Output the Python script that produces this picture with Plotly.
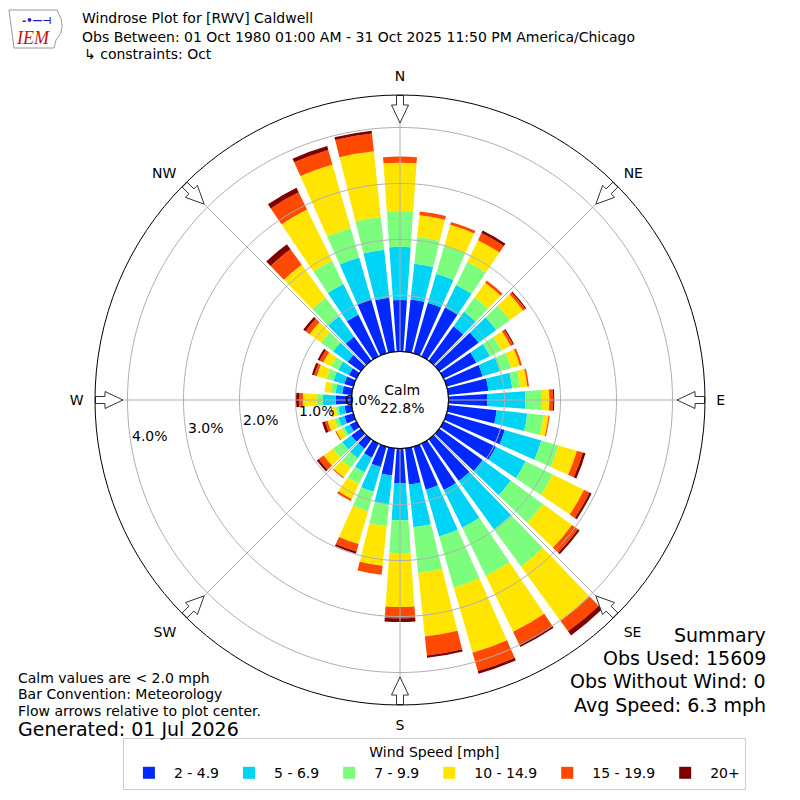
import math
import plotly.graph_objects as go

# wind direction bins (degrees, meteorological convention)
directions = list(range(0, 360, 10))
speed_bins = ["2 - 4.9", "5 - 6.9", "7 - 9.9", "10 - 14.9", "15 - 19.9", "20+"]
bin_colors = ["#0028ff", "#00d4f6", "#7dfd7d", "#ffe500", "#ff4800", "#800000"]

# frequency (%) per direction for each speed bin
pct_2_5 = [0.92, 0.94, 0.94, 0.97, 0.76, 0.87, 0.65, 0.67, 0.72, 0.69, 0.87, 1.08,
           1.04, 0.96, 0.92, 0.92, 0.80, 0.65, 0.62, 0.49, 0.38, 0.28, 0.21, 0.21,
           0.13, 0.17, 0.13, 0.28, 0.17, 0.17, 0.15, 0.29, 0.53, 0.83, 1.01, 0.97]
pct_5_7 = [0.95, 0.64, 0.54, 0.45, 0.32, 0.39, 0.27, 0.32, 0.43, 0.68, 0.55, 0.68,
           0.59, 0.62, 1.07, 0.75, 0.87, 0.77, 0.66, 0.52, 0.46, 0.29, 0.21, 0.20,
           0.11, 0.11, 0.11, 0.23, 0.12, 0.20, 0.21, 0.32, 0.45, 0.61, 0.77, 0.86]
pct_7_10 = [0.64, 0.48, 0.52, 0.46, 0.32, 0.30, 0.23, 0.21, 0.14, 0.30, 0.29, 0.32,
            0.54, 0.71, 0.82, 0.96, 0.95, 0.82, 0.59, 0.39, 0.36, 0.23, 0.21, 0.20,
            0.05, 0.07, 0.05, 0.11, 0.09, 0.13, 0.14, 0.27, 0.41, 0.46, 0.55, 0.59]
pct_10_15 = [0.86, 0.39, 0.39, 0.43, 0.32, 0.29, 0.18, 0.16, 0.13, 0.13, 0.09, 0.34,
             0.62, 0.64, 1.20, 1.11, 1.21, 1.14, 0.96, 0.71, 0.61, 0.30, 0.21, 0.21,
             0.11, 0.13, 0.07, 0.25, 0.11, 0.18, 0.16, 0.25, 0.73, 1.02, 1.18, 1.18]
pct_15_20 = [0.11, 0.07, 0.05, 0.14, 0.05, 0.05, 0.05, 0.04, 0.03, 0.07, 0.02, 0.11,
             0.11, 0.13, 0.23, 0.25, 0.34, 0.34, 0.20, 0.16, 0.14, 0.04, 0.02, 0.11,
             0.02, 0.05, 0.02, 0.07, 0.00, 0.05, 0.07, 0.09, 0.34, 0.34, 0.27, 0.32]
pct_20p = [0.00, 0.00, 0.00, 0.05, 0.00, 0.02, 0.02, 0.00, 0.00, 0.02, 0.00, 0.05,
           0.04, 0.04, 0.09, 0.05, 0.05, 0.04, 0.07, 0.00, 0.04, 0.00, 0.00, 0.04,
           0.00, 0.05, 0.00, 0.05, 0.00, 0.04, 0.04, 0.05, 0.11, 0.09, 0.07, 0.05]
series = [pct_2_5, pct_5_7, pct_7_10, pct_10_15, pct_15_20, pct_20p]

calm_pct = 22.8
radial_ticks = [0, 1, 2, 3, 4]
compass_angles = [0, 45, 90, 135, 180, 225, 270, 315]
compass_labels = ["N", "NE", "E", "SE", "S", "SW", "W", "NW"]

FONT = "DejaVu Sans"
GRID = "#b0b0b0"
RMAX = 4.58
R_PX = 305.0          # outer circle radius in pixels
HOLE_PX = 48.5        # calm circle radius in pixels
PX_PER_PCT = (R_PX - HOLE_PX) / RMAX
PAGE_PAD = 8          # the browser page margin around the figure
LABEL_ANGLE = 8.5     # radial labels sit this many degrees below west


def px_x(x):
    return (x - PAGE_PAD) / 800


def px_y(y):
    return 1 - (y - PAGE_PAD) / 800


fig = go.Figure()

for name, vals, col in zip(speed_bins, series, bin_colors):
    fig.add_trace(go.Barpolar(r=vals, theta=directions, width=8, name=name,
                              marker=dict(color=col, line=dict(width=0))))

# grid drawn over the bars, like the original
circle = list(range(0, 361, 2))
for t in radial_ticks[1:]:
    fig.add_trace(go.Scatterpolar(r=[t] * len(circle), theta=circle, mode="lines",
                                  line=dict(color=GRID, width=1), hoverinfo="skip",
                                  showlegend=False))
for a in compass_angles:
    fig.add_trace(go.Scatterpolar(r=[0, RMAX], theta=[a, a], mode="lines",
                                  line=dict(color=GRID, width=1), hoverinfo="skip",
                                  showlegend=False))
fig.add_trace(go.Scatterpolar(r=[0] * len(circle), theta=circle, mode="lines",
                              line=dict(color="black", width=1.2), hoverinfo="skip",
                              showlegend=False))

# hollow flow arrows pointing at the center
shape = [(304.5, -3.5), (295, -3.5), (295, -8.5), (277, 0), (295, 8.5),
         (295, 3.5), (304.5, 3.5), (304.5, -3.5)]
for a in compass_angles:
    rr, tt = [], []
    for u, v in shape:
        rr.append((math.hypot(u, v) - HOLE_PX) / PX_PER_PCT)
        tt.append(a + math.degrees(math.atan2(v, u)))
    fig.add_trace(go.Scatterpolar(r=rr, theta=tt, mode="lines", fill="toself",
                                  fillcolor="white", line=dict(color="#333", width=1),
                                  hoverinfo="skip", showlegend=False))

fig.update_layout(
    width=800, height=800,
    margin=dict(l=0, r=0, t=0, b=0),
    paper_bgcolor="white",
    font=dict(family=FONT, size=14, color="black"),
    polar=dict(
        domain=dict(x=[px_x(400 - R_PX), px_x(400 + R_PX)],
                    y=[px_y(400 + R_PX), px_y(400 - R_PX)]),
        hole=HOLE_PX / R_PX,
        bgcolor="white",
        barmode="stack",
        radialaxis=dict(range=[0, RMAX], tickvals=radial_ticks, showticklabels=False,
                        showline=False, showgrid=False, ticks=""),
        angularaxis=dict(rotation=90, direction="clockwise", tickvals=compass_angles,
                         ticktext=compass_labels, showgrid=False, ticks="outside",
                         ticklen=8, tickcolor="rgba(0,0,0,0)",
                         linecolor="black", linewidth=1, tickfont=dict(size=14)),
    ),
    legend=dict(orientation="h", x=0.533, xanchor="center", y=px_y(790),
                yanchor="bottom",
                title=dict(text="Wind Speed [mph]", side="top center",
                           font=dict(size=14)),
                bordercolor="#cccccc", borderwidth=1, font=dict(size=14),
                itemwidth=40, traceorder="normal"),
)

# IEM logo outline (rough)
fig.add_shape(type="path", xref="paper", yref="paper",
              path="M %f,%f L %f,%f Q %f,%f %f,%f L %f,%f L %f,%f L %f,%f Z" % (
                  px_x(9), px_y(10), px_x(57), px_y(10), px_x(68), px_y(28),
                  px_x(56), px_y(40), px_x(54), px_y(48), px_x(14), px_y(48),
                  px_x(9), px_y(10)),
              line=dict(color="#999999", width=1))


def note(text, x, y, size=14, anchor="left", family=FONT, color="black"):
    fig.add_annotation(text=text, x=px_x(x), y=px_y(y), xref="paper", yref="paper",
                       xanchor=anchor, yanchor="middle", showarrow=False,
                       font=dict(size=size, family=family, color=color))


# radial tick labels, placed just inside each ring below the W spoke
for t in radial_ticks:
    ring = HOLE_PX + t * PX_PER_PCT
    lx = 400 - ring * math.cos(math.radians(LABEL_ANGLE))
    ly = 400 + ring * math.sin(math.radians(LABEL_ANGLE)) - 4
    if t == 0:
        # keep the 0.0% label clear of the calm text
        lx, ly = lx - 9, ly - 3
    note("%.1f%%" % t, lx, ly)

note("Windrose Plot for [RWV] Caldwell", 80, 18)
note("Obs Between: 01 Oct 1980 01:00 AM - 31 Oct 2025 11:50 PM America/Chicago", 80, 37)
note("↳ constraints: Oct", 82, 54)
note("<i>IEM</i>", 14, 38, size=18, family="Liberation Serif", color="#cc1111")
note("<b>-•—⊣</b>", 20, 20, size=10, color="#1a1acc")

note("Calm<br>%.1f%%" % calm_pct, 402, 399, anchor="center")

note("Calm values are < 2.0 mph", 16, 678)
note("Bar Convention: Meteorology", 16, 694)
note("Flow arrows relative to plot center.", 16, 711)
note("Generated: 01 Jul 2026", 16, 729, size=19)

note("Summary", 768, 635, size=19, anchor="right")
note("Obs Used: 15609", 768, 658, size=19, anchor="right")
note("Obs Without Wind: 0", 768, 681, size=19, anchor="right")
note("Avg Speed: 6.3 mph", 768, 705, size=19, anchor="right")

fig.write_html("out.html")
